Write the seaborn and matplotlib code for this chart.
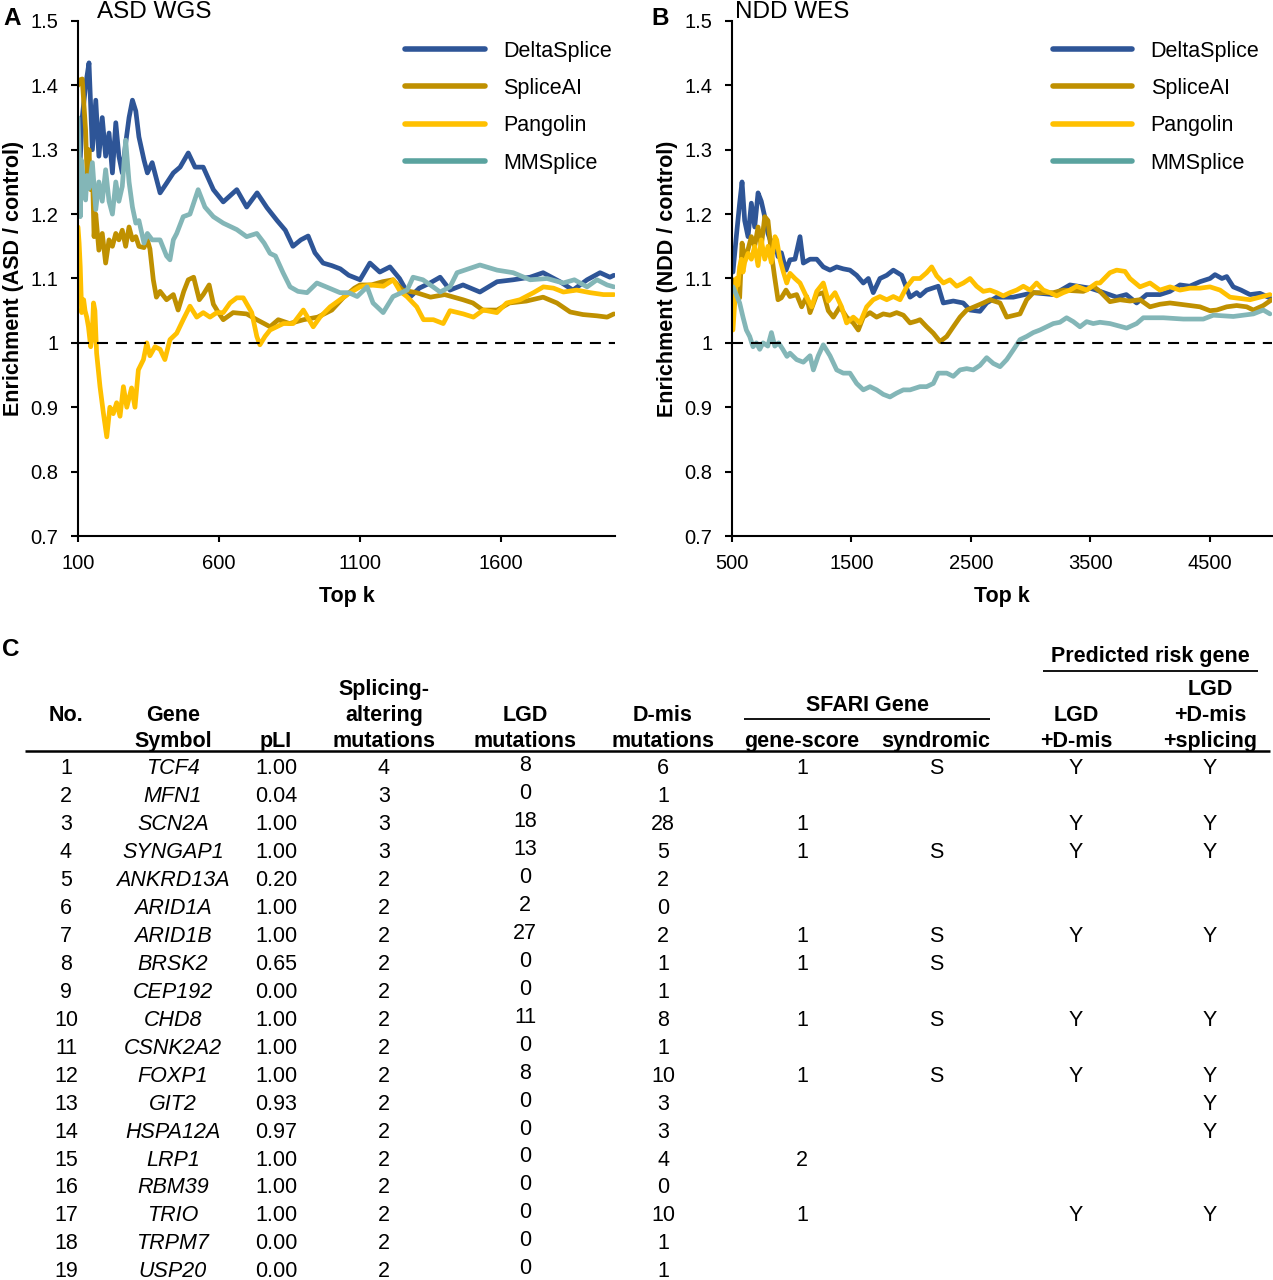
import numpy as np
import pandas as pd
import matplotlib
matplotlib.use("Agg")
import matplotlib.pyplot as plt
import seaborn as sns
from matplotlib.ticker import FuncFormatter

# ---------------- data: panel A (ASD WGS) ----------------
methods = ["DeltaSplice", "SpliceAI", "Pangolin", "MMSplice"]

asd_delta_k = [100,104,115,127,139,151,163,174,186,198,210,222,234,245,257,269,281,293,305,316,334,346,363,391,414,
               438,462,491,515,544,580,615,663,698,735,770,806,835,862,890,916,940,969,1000,1030,1060,1100,1135,1170,1206,
               1240,1277,1310,1348,1384,1419,1465,1525,1586,1643,1703,1749,1809,1855,1905,1951,1986,2000]
asd_delta = [1.20,1.25,1.35,1.40,1.435,1.30,1.377,1.29,1.35,1.29,1.326,1.264,1.342,1.29,1.264,1.31,1.35,1.377,1.36,1.32,
             1.284,1.264,1.28,1.233,1.248,1.264,1.273,1.295,1.273,1.273,1.238,1.219,1.238,1.211,1.233,1.21,1.19,1.175,1.15,1.16,
             1.166,1.14,1.124,1.12,1.115,1.105,1.098,1.124,1.11,1.118,1.1,1.071,1.085,1.093,1.102,1.082,1.09,1.079,1.095,1.098,
             1.102,1.109,1.095,1.082,1.098,1.109,1.102,1.105]

asd_spliceai_k = [100,104,115,127,133,139,145,151,157,163,174,186,198,210,222,234,245,257,269,281,293,305,316,334,346,
                  355,367,378,391,414,438,455,475,491,510,530,544,565,580,598,615,650,698,734,760,781,810,850,900,950,
                  1000,1040,1080,1100,1140,1180,1217,1250,1300,1350,1400,1465,1500,1535,1586,1630,1690,1749,1798,1845,
                  1890,1940,1976,2000]
asd_spliceai = [1.40,1.408,1.41,1.33,1.249,1.30,1.238,1.27,1.165,1.20,1.144,1.17,1.124,1.16,1.15,1.17,1.16,1.175,1.15,1.18,
                1.16,1.165,1.15,1.148,1.16,1.146,1.098,1.071,1.08,1.067,1.075,1.051,1.08,1.098,1.102,1.067,1.075,1.09,1.06,1.047,
                1.036,1.047,1.045,1.036,1.03,1.025,1.036,1.03,1.036,1.04,1.051,1.07,1.085,1.09,1.09,1.095,1.098,1.082,1.078,1.071,
                1.075,1.067,1.062,1.051,1.051,1.062,1.065,1.071,1.062,1.048,1.044,1.042,1.04,1.045]

asd_pangolin_k = [100,104,108,113,120,125,131,137,145,150,155,160,166,178,190,202,213,225,237,249,261,273,290,302,314,
                  332,344,355,373,391,408,426,450,473,497,521,544,568,592,615,639,663,686,716,734,745,763,781,828,863,
                  899,934,958,994,1029,1065,1100,1135,1183,1218,1242,1266,1301,1325,1360,1395,1419,1466,1502,1537,
                  1585,1620,1667,1715,1750,1786,1821,1868,1916,1963,2000]
asd_pangolin = [1.18,1.155,1.118,1.047,1.067,1.05,1.04,1.025,0.994,1.01,1.062,1.05,0.984,0.932,0.891,0.854,0.90,0.89,0.907,0.886,
                0.932,0.90,0.93,0.90,0.958,0.974,1.0,0.98,0.994,0.99,0.974,1.005,1.015,1.036,1.057,1.04,1.047,1.04,1.047,1.047,
                1.062,1.07,1.07,1.047,1.01,0.997,1.01,1.02,1.03,1.03,1.051,1.025,1.04,1.056,1.067,1.078,1.087,1.09,1.088,1.098,
                1.08,1.072,1.056,1.036,1.036,1.03,1.05,1.045,1.04,1.051,1.047,1.062,1.067,1.078,1.087,1.085,1.079,1.082,1.078,1.075,
                1.075]

asd_mmsplice_k = [100,104,108,112,120,127,132,139,151,163,174,186,198,210,222,234,245,257,269,281,293,305,316,334,346,
                  363,391,414,426,438,450,473,497,526,550,580,615,663,698,734,760,781,800,827,852,880,912,947,980,1029,
                  1060,1090,1125,1146,1182,1217,1267,1288,1323,1359,1384,1419,1444,1525,1586,1643,1703,1763,1820,1860,
                  1905,1940,1976,2000]
asd_mmsplice = [1.35,1.30,1.196,1.284,1.25,1.222,1.26,1.24,1.28,1.207,1.25,1.22,1.269,1.22,1.20,1.25,1.22,1.243,1.315,1.25,
                1.211,1.186,1.19,1.155,1.17,1.16,1.16,1.135,1.129,1.16,1.17,1.196,1.2,1.238,1.211,1.196,1.186,1.176,1.165,1.17,
                1.155,1.139,1.135,1.109,1.087,1.08,1.078,1.093,1.087,1.078,1.078,1.072,1.087,1.062,1.047,1.072,1.082,1.102,1.098,1.087,
                1.079,1.087,1.109,1.121,1.113,1.109,1.098,1.1,1.093,1.098,1.087,1.098,1.09,1.087]

# ---------------- data: panel B (NDD WES) ----------------
ndd_delta_k = [508,536,564,584,606,634,662,690,718,745,774,801,829,857,885,913,952,985,1027,1069,1097,1153,1209,1264,1320,
               1376,1431,1487,1543,1599,1641,1682,1738,1795,1850,1920,1990,2046,2073,2129,2226,2268,2352,2435,2492,
               2575,2631,2715,2854,3021,3189,3328,3496,3580,3719,3800,3886,3970,4081,4165,4249,4330,4416,4500,4542,
               4600,4640,4695,4760,4835,4918,5000]
ndd_delta = [1.11,1.165,1.217,1.25,1.19,1.165,1.217,1.18,1.233,1.22,1.196,1.17,1.155,1.16,1.134,1.14,1.113,1.129,1.13,1.165,
             1.124,1.13,1.13,1.118,1.113,1.118,1.115,1.113,1.105,1.093,1.1,1.078,1.1,1.105,1.113,1.105,1.071,1.078,1.073,1.082,
             1.088,1.062,1.065,1.062,1.051,1.049,1.062,1.071,1.071,1.078,1.075,1.09,1.085,1.08,1.071,1.075,1.062,1.075,1.075,1.08,
             1.09,1.088,1.095,1.1,1.106,1.1,1.103,1.087,1.082,1.075,1.077,1.07]

ndd_spliceai_k = [508,536,564,584,606,634,662,690,718,745,774,801,829,857,885,913,952,985,1041,1083,1125,1153,1209,1264,1306,
                  1348,1403,1459,1515,1557,1599,1655,1710,1766,1822,1878,1934,1990,2046,2073,2129,2185,2241,2297,2352,
                  2408,2464,2603,2659,2743,2799,2910,2966,3021,3189,3272,3440,3523,3579,3663,3747,3830,3914,3998,4081,
                  4165,4249,4333,4416,4500,4556,4640,4723,4807,4863,4946,5016]
ndd_spliceai = [1.098,1.085,1.07,1.155,1.13,1.145,1.165,1.15,1.18,1.15,1.196,1.19,1.14,1.102,1.067,1.07,1.082,1.072,1.075,1.056,
                1.072,1.047,1.075,1.078,1.05,1.04,1.056,1.04,1.031,1.02,1.04,1.047,1.04,1.045,1.043,1.047,1.043,1.031,1.034,1.036,
                1.025,1.015,1.002,1.01,1.025,1.04,1.051,1.062,1.067,1.062,1.04,1.045,1.067,1.078,1.078,1.082,1.08,1.088,1.08,1.064,
                1.067,1.065,1.067,1.056,1.06,1.062,1.06,1.058,1.056,1.05,1.051,1.056,1.058,1.056,1.051,1.058,1.067]

ndd_pangolin_k = [508,522,536,550,564,578,592,606,634,662,690,718,745,774,801,829,860,874,902,930,958,985,1027,1069,1125,
                  1167,1209,1264,1306,1362,1417,1459,1515,1571,1627,1682,1738,1795,1850,1906,1962,2017,2073,2129,2171,
                  2213,2269,2324,2380,2436,2492,2547,2603,2659,2715,2770,2826,2882,2938,2994,3049,3105,3161,3217,3272,
                  3328,3384,3468,3551,3579,3663,3719,3789,3830,3914,3998,4081,4165,4249,4333,4416,4500,4584,4667,4751,
                  4835,4918,5002]
ndd_pangolin = [1.02,1.06,1.10,1.09,1.118,1.13,1.11,1.125,1.139,1.13,1.15,1.12,1.16,1.13,1.15,1.125,1.165,1.16,1.129,1.11,
                1.093,1.108,1.1,1.093,1.071,1.056,1.08,1.093,1.065,1.078,1.056,1.031,1.04,1.031,1.056,1.067,1.072,1.067,1.072,1.067,
                1.087,1.1,1.1,1.109,1.118,1.104,1.093,1.098,1.088,1.093,1.1,1.088,1.08,1.082,1.078,1.073,1.078,1.082,1.088,1.082,
                1.093,1.082,1.078,1.073,1.078,1.082,1.088,1.082,1.093,1.093,1.109,1.113,1.111,1.1,1.087,1.093,1.082,1.087,1.082,1.085,
                1.085,1.087,1.082,1.071,1.069,1.067,1.071,1.075]

ndd_mmsplice_k = [508,536,564,592,620,648,676,704,732,760,800,830,858,890,925,960,985,1041,1097,1153,1181,1222,1264,1320,1376,
                  1431,1487,1543,1599,1655,1710,1766,1822,1878,1934,1990,2073,2129,2185,2226,2297,2352,2408,2464,2519,
                  2575,2631,2687,2743,2799,2854,2910,2966,3021,3077,3133,3189,3244,3300,3356,3412,3468,3523,3579,3663,
                  3803,3886,3942,4109,4277,4444,4528,4695,4863,4946,5002]
ndd_mmsplice = [1.087,1.075,1.062,1.04,1.02,1.01,0.994,1.0,0.99,1.0,0.995,1.016,0.995,1.0,0.99,0.979,0.984,0.974,0.97,0.98,
                0.958,0.98,0.997,0.98,0.958,0.953,0.953,0.937,0.927,0.932,0.927,0.92,0.916,0.922,0.927,0.927,0.932,0.932,0.937,0.953,
                0.953,0.948,0.958,0.96,0.958,0.965,0.977,0.968,0.963,0.974,0.989,1.005,1.01,1.016,1.02,1.025,1.03,1.032,1.039,1.033,
                1.025,1.033,1.03,1.032,1.03,1.023,1.03,1.039,1.039,1.037,1.037,1.043,1.041,1.045,1.051,1.045]

asd_xticks = [100, 600, 1100, 1600]
ndd_xticks = [500, 1500, 2500, 3500, 4500]
yticks = [0.7, 0.8, 0.9, 1.0, 1.1, 1.2, 1.3, 1.4, 1.5]

# ---------------- data: panel C (table) ----------------
row_no = list(range(1, 20))
genes = ["TCF4", "MFN1", "SCN2A", "SYNGAP1", "ANKRD13A", "ARID1A", "ARID1B", "BRSK2", "CEP192", "CHD8",
         "CSNK2A2", "FOXP1", "GIT2", "HSPA12A", "LRP1", "RBM39", "TRIO", "TRPM7", "USP20"]
pli = [1.00, 0.04, 1.00, 1.00, 0.20, 1.00, 1.00, 0.65, 0.00, 1.00, 1.00, 1.00, 0.93, 0.97, 1.00, 1.00, 1.00, 0.00, 0.00]
splicing_mut = [4, 3, 3, 3, 2, 2, 2, 2, 2, 2, 2, 2, 2, 2, 2, 2, 2, 2, 2]
lgd_mut = [8, 0, 18, 13, 0, 2, 27, 0, 0, 11, 0, 8, 0, 0, 0, 0, 0, 0, 0]
dmis_mut = [6, 1, 28, 5, 2, 0, 2, 1, 1, 8, 1, 10, 3, 3, 4, 0, 10, 1, 1]
gene_score = ["1", "", "1", "1", "", "", "1", "1", "", "1", "", "1", "", "", "2", "", "1", "", ""]
syndromic = ["S", "", "", "S", "", "", "S", "S", "", "S", "", "S", "", "", "", "", "", "", ""]
risk_lgd_dmis = ["Y", "", "Y", "Y", "", "", "Y", "", "", "Y", "", "Y", "", "", "", "", "Y", "", ""]
risk_all = ["Y", "", "Y", "Y", "", "", "Y", "", "", "Y", "", "Y", "Y", "Y", "", "", "Y", "", ""]

# ---------------- style ----------------
sns.set_theme(style="ticks")
plt.rcParams["font.family"] = ["Liberation Sans", "DejaVu Sans"]

line_colors = {"DeltaSplice": "#2e5597", "SpliceAI": "#bf9000", "Pangolin": "#ffc000", "MMSplice": "#83b6b7"}
legend_mm_color = "#5aa39f"
FS = 15.5

W, H = 1273, 1280
fig = plt.figure(figsize=(W / 100, H / 100), dpi=100)


def px_axes(l, t, r, b, **kw):
    return fig.add_axes([l / W, 1 - b / H, (r - l) / W, (b - t) / H], **kw)


def panel(ax, series, xlim, xticks, ylabel, leg_x):
    frames = [pd.DataFrame({"k": k, "enr": y, "method": m}) for m, (k, y) in series.items()]
    df = pd.concat(frames, ignore_index=True)
    sns.lineplot(data=df, x="k", y="enr", hue="method", hue_order=methods, palette=line_colors,
                 estimator=None, sort=False, linewidth=3.4, ax=ax)
    ax.axhline(1.0, color="black", lw=1.5, ls=(0, (5.3, 3.8)), zorder=5)
    ax.set_xlim(*xlim)
    ax.set_ylim(0.7, 1.5)
    ax.set_xticks(xticks)
    ax.set_yticks(yticks)
    ax.yaxis.set_major_formatter(FuncFormatter(lambda v, p: f"{v:g}"))
    sns.despine(ax=ax)
    for s in ("left", "bottom"):
        ax.spines[s].set_linewidth(1.5)
        ax.spines[s].set_color("black")
    ax.tick_params(axis="y", direction="out", length=5, width=1.5, color="black", labelsize=14.5, pad=9,
                   labelcolor="black")
    ax.tick_params(axis="x", direction="out", length=4, width=1.5, color="black", labelsize=14.5, pad=9,
                   labelcolor="black")
    ax.set_xlabel("Top k", fontsize=FS, fontweight="bold", labelpad=9, color="black")
    ax.set_ylabel(ylabel, fontsize=FS, fontweight="bold", labelpad=5, color="black")
    old = ax.get_legend()
    handles = old.legend_handles
    labels = [t.get_text() for t in old.get_texts()]
    old.remove()
    leg = ax.legend(handles, labels, loc="upper left", bbox_to_anchor=(leg_x, 0.962), frameon=False,
                    fontsize=FS, handlelength=3.7, handletextpad=0.85, labelspacing=0.76,
                    borderpad=0, borderaxespad=0)
    for i, ln in enumerate(leg.get_lines()):
        ln.set_linewidth(4.0)
        if labels[i] == "MMSplice":
            ln.set_color(legend_mm_color)
    for t in leg.get_texts():
        t.set_color("black")


axA = px_axes(78, 21, 615, 536)
panel(axA, {"DeltaSplice": (asd_delta_k, asd_delta), "SpliceAI": (asd_spliceai_k, asd_spliceai),
            "Pangolin": (asd_pangolin_k, asd_pangolin), "MMSplice": (asd_mmsplice_k, asd_mmsplice)},
      (100, 2004), asd_xticks, "Enrichment (ASD / control)", 0.609)

axB = px_axes(732, 21, 1272, 536)
panel(axB, {"DeltaSplice": (ndd_delta_k, ndd_delta), "SpliceAI": (ndd_spliceai_k, ndd_spliceai),
            "Pangolin": (ndd_pangolin_k, ndd_pangolin), "MMSplice": (ndd_mmsplice_k, ndd_mmsplice)},
      (500, 5019), ndd_xticks, "Enrichment (NDD / control)", 0.594)

# ---------------- overlay in pixel coordinates: labels + table ----------------
ov = fig.add_axes([0, 0, 1, 1])
ov.set_xlim(0, W)
ov.set_ylim(H, 0)
ov.axis("off")

CAP = 7.7  # half cap-height offset -> baseline


def txt(x, yc, s, **kw):
    kw.setdefault("fontsize", FS)
    kw.setdefault("ha", "center")
    ov.text(x, yc + CAP, s, va="baseline", color="black", **kw)


# panel letters and titles
txt(3, 17, "A", ha="left", fontsize=17.5, fontweight="bold")
txt(97, 10, "ASD WGS", ha="left", fontsize=17.5)
txt(651, 17, "B", ha="left", fontsize=17.5, fontweight="bold")
txt(735, 10, "NDD WES", ha="left", fontsize=17.5)
txt(2, 648, "C", ha="left", fontsize=17.5, fontweight="bold")

# table header
col_x = [66, 173, 276, 384, 525, 663, 802, 936, 1076, 1210]
hb = dict(fontweight="bold")
txt(1150, 654, "Predicted risk gene", **hb)
ov.hlines(671, 1043, 1258, color="black", lw=1.3)
txt(867, 703, "SFARI Gene", **hb)
ov.hlines(719, 744, 990, color="black", lw=1.3)
header_rows = {
    687: {3: "Splicing-", 9: "LGD"},
    713: {0: "No.", 1: "Gene", 3: "altering", 4: "LGD", 5: "D-mis", 8: "LGD", 9: "+D-mis"},
    739: {1: "Symbol", 2: "pLI", 3: "mutations", 4: "mutations", 5: "mutations", 6: "gene-score",
          7: "syndromic", 8: "+D-mis", 9: "+splicing"},
}
for yc, cols in header_rows.items():
    for ci, s in cols.items():
        txt(col_x[ci], yc, s, **hb)
ov.hlines(751, 25, 1270, color="black", lw=1.8)

# table body
row_y0, row_dy = 766.5, 27.95
for i in range(len(genes)):
    yc = row_y0 + i * row_dy
    txt(col_x[0], yc, str(row_no[i]))
    txt(col_x[1], yc, genes[i], fontstyle="italic")
    txt(col_x[2], yc, f"{pli[i]:.2f}")
    txt(col_x[3], yc, str(splicing_mut[i]))
    txt(col_x[4], yc - 3, str(lgd_mut[i]))
    txt(col_x[5], yc, str(dmis_mut[i]))
    txt(col_x[6], yc, gene_score[i])
    txt(col_x[7], yc, syndromic[i])
    txt(col_x[8], yc, risk_lgd_dmis[i])
    txt(col_x[9], yc, risk_all[i])

fig.savefig("out.png", dpi=100, facecolor="white")
